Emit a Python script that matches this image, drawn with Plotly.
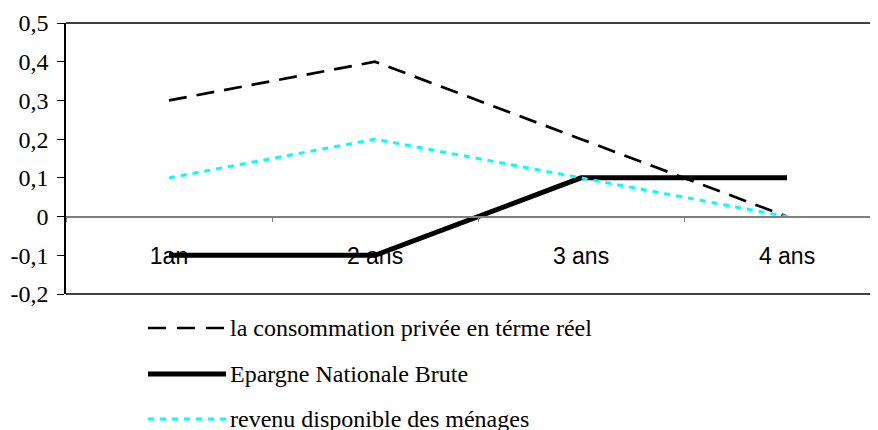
import plotly.graph_objects as go

categories = ["1an", "2 ans", "3 ans", "4 ans"]
consommation = [0.3, 0.4, 0.2, 0.0]
epargne = [-0.1, -0.1, 0.1, 0.1]
revenu = [0.1, 0.2, 0.1, 0.0]

y_tickvals = [0.5, 0.4, 0.3, 0.2, 0.1, 0.0, -0.1, -0.2]
y_ticktext = ["0,5", "0,4", "0,3", "0,2", "0,1", "0", "-0,1", "-0,2"]

SERIF = "'Liberation Serif', 'Times New Roman', 'DejaVu Serif', serif"
SANS = "'Liberation Sans', Arial, sans-serif"

series = [
    ("la consommation privée en térme réel", consommation,
     dict(color="black", width=2.7, dash="18px,10px"), "18px,11px"),
    ("Epargne Nationale Brute", epargne, dict(color="black", width=5), "solid"),
    ("revenu disponible des ménages", revenu,
     dict(color="#00FFFF", width=3, dash="6px,6px"), "6px,6px"),
]

# page body adds an 8px margin, so layout is shifted back by that much
OFF = 8
W, H = 878, 430
L, T = 66 - OFF, 23 - OFF
PLOT_BOTTOM = 294 - OFF
B = H - PLOT_BOTTOM
PW, PH = W - L, PLOT_BOTTOM - T
Y_MIN, Y_MAX = -0.2, 0.5
CAT_PX = 206


def px_x(x):
    return (x - OFF - L) / PW


def px_y(y):
    return (PLOT_BOTTOM - (y - OFF)) / PH


fig = go.Figure()
for name, values, line, _ in series:
    fig.add_trace(go.Scatter(x=categories, y=values, mode="lines", name=name,
                             line=line, showlegend=False))

# hand-made legend below the plot
legend_rows = [328, 374, 419]
for (name, _, line, dash), row_y in zip(series, legend_rows):
    fig.add_shape(type="line", xref="paper", yref="paper",
                  x0=px_x(148), x1=px_x(226), y0=px_y(row_y), y1=px_y(row_y),
                  line=dict(color=line["color"], width=line["width"], dash=dash))
    fig.add_annotation(text=name, xref="paper", yref="paper",
                       x=px_x(228), y=px_y(row_y), xanchor="left", yanchor="middle",
                       showarrow=False, font=dict(family=SERIF, size=24, color="black"))

# frame lines at top and bottom of the plot area
for yv in (0, 1):
    fig.add_shape(type="line", xref="paper", yref="paper", x0=0, x1=1, y0=yv, y1=yv,
                  line=dict(color="black", width=1.5))

zero_pos = (0 - Y_MIN) / (Y_MAX - Y_MIN)

fig.update_layout(
    width=W, height=H,
    margin=dict(l=L, r=0, t=T, b=B),
    plot_bgcolor="white", paper_bgcolor="white",
    font=dict(family=SANS),
    xaxis=dict(
        range=[-0.5, -0.5 + PW / CAT_PX],
        anchor="free", position=zero_pos,
        showline=True, linecolor="#808080", linewidth=1.5,
        ticks="outside", tickson="boundaries", ticklen=5, tickcolor="#808080",
        ticklabelstandoff=19,
        showgrid=False, zeroline=False,
        tickfont=dict(family=SANS, size=23, color="black"),
    ),
    yaxis=dict(
        range=[Y_MIN, Y_MAX],
        tickvals=y_tickvals, ticktext=y_ticktext,
        showline=True, linecolor="black", linewidth=1.5,
        ticks="outside", ticklen=7, tickcolor="black",
        ticklabelstandoff=4,
        showgrid=False, zeroline=False,
        tickfont=dict(family=SERIF, size=24, color="black"),
    ),
)

fig.write_html("out.html")
